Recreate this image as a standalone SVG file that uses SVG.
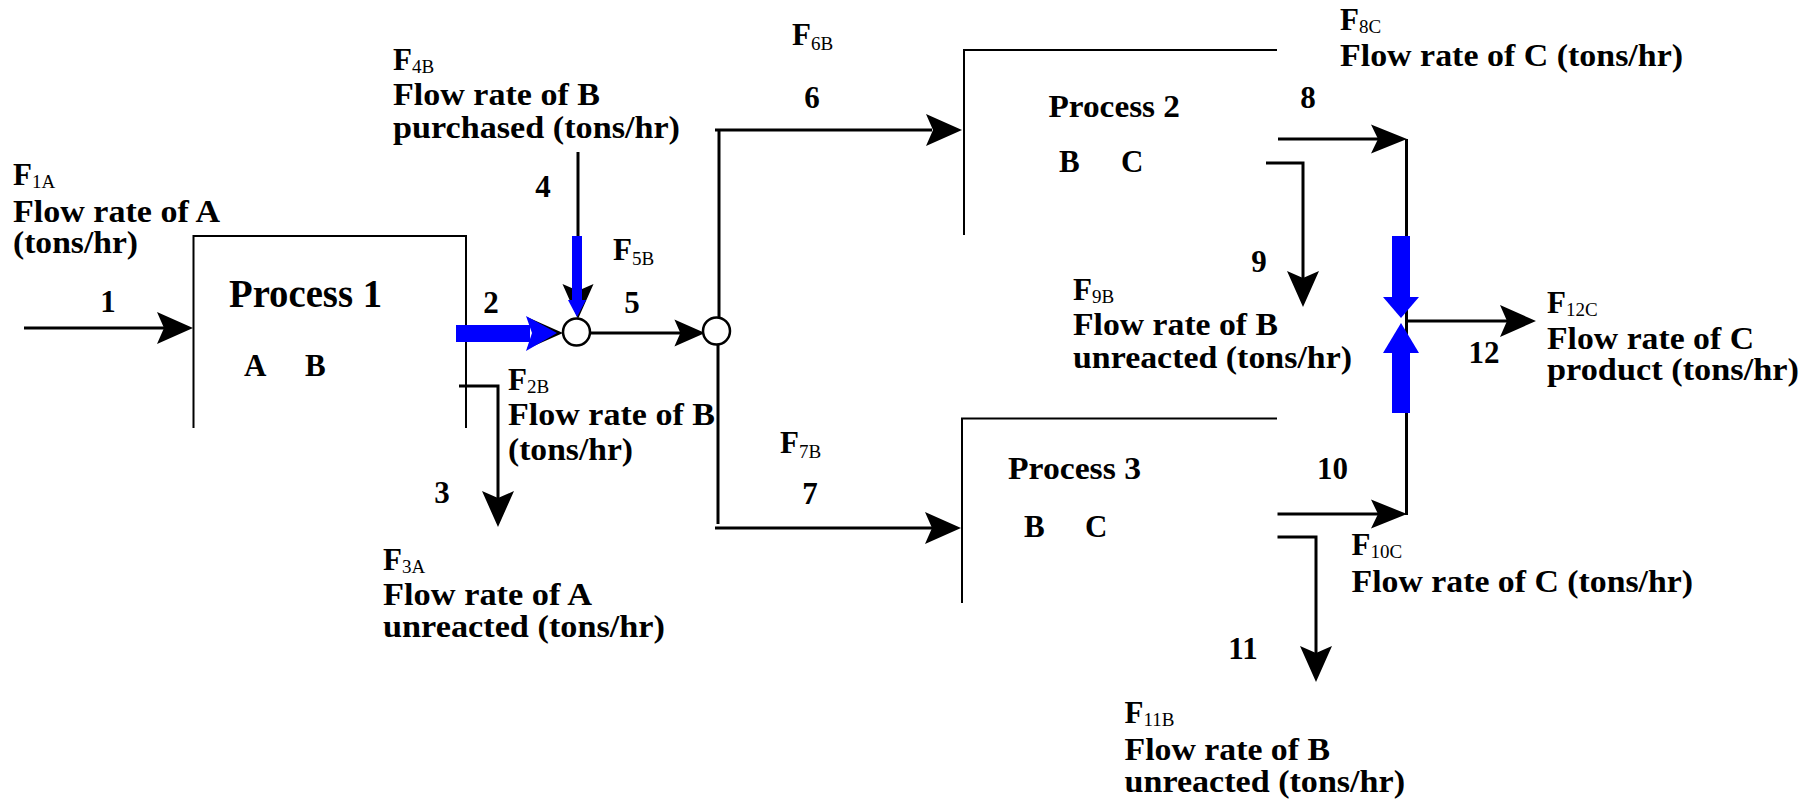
<svg xmlns="http://www.w3.org/2000/svg" xmlns:xlink="http://www.w3.org/1999/xlink" width="1808" height="800" viewBox="0 0 1808 800">
<style>
text{font-family:"Liberation Serif","Times New Roman",serif;font-weight:bold;font-size:31px;fill:#000}
.sub{font-weight:normal;font-size:19px}
.proc{font-size:32px}
.p1{font-size:39px}
.num{text-anchor:middle}
.box{fill:none;stroke:#000;stroke-width:2}
.ln{fill:none;stroke:#000;stroke-width:3}
.blue{fill:#0000ff;stroke:none}
.mix{fill:#fff;stroke:#000;stroke-width:2.5}
</style>
<defs>
<path id="ah" d="M0,0 L-36,-16 L-29,0 L-36,16 Z" fill="#000"/>
</defs>
<rect width="1808" height="800" fill="#fff"/>

<g id="process1">
<path class="box" d="M193.5,428 V236 H466 V428"/>
<text class="p1" x="229" y="307" textLength="153" lengthAdjust="spacingAndGlyphs">Process 1</text>
<text x="244" y="376">A</text>
<text x="305" y="376">B</text>
</g>

<g id="process2">
<path class="box" d="M964,235 V50 H1277"/>
<text class="proc" x="1048.5" y="117" textLength="131.5" lengthAdjust="spacingAndGlyphs">Process 2</text>
<text x="1059" y="172">B</text>
<text x="1121" y="172">C</text>
</g>

<g id="process3">
<path class="box" d="M962,603 V418.5 H1277"/>
<text class="proc" x="1008" y="479" textLength="133" lengthAdjust="spacingAndGlyphs">Process 3</text>
<text x="1024" y="537">B</text>
<text x="1085" y="537">C</text>
</g>

<g id="connectors">
<!-- stream 1 -->
<line class="ln" x1="24" y1="328" x2="165" y2="328"/>
<use xlink:href="#ah" transform="translate(193,328)"/>
<!-- stream 2 (blue) -->
<use xlink:href="#ah" transform="translate(563,333)"/>
<rect class="blue" x="456" y="325" width="74" height="17"/>
<polygon class="blue" points="526,316 557,333 526,351 532,333"/>
<!-- stream 3 -->
<polyline class="ln" points="459,386 498,386 498,500"/>
<use xlink:href="#ah" transform="translate(498,527) rotate(90)"/>
<!-- stream 4 (blue) -->
<line class="ln" x1="578" y1="152" x2="578" y2="240"/>
<use xlink:href="#ah" transform="translate(578,319) scale(0.97) rotate(90)"/>
<rect class="blue" x="572" y="236" width="10" height="66"/>
<polygon class="blue" points="568,300 586,300 577,317"/>
<!-- stream 5 -->
<line class="ln" x1="590" y1="333" x2="685" y2="333"/>
<use xlink:href="#ah" transform="translate(705,333) scale(0.85)"/>
<!-- stream 6 -->
<polyline class="ln" points="719,320 719,130"/>
<line class="ln" x1="715" y1="130" x2="932" y2="130"/>
<use xlink:href="#ah" transform="translate(962,130)"/>
<!-- stream 7 -->
<polyline class="ln" points="718,344 718,524"/>
<line class="ln" x1="715" y1="528" x2="932" y2="528"/>
<use xlink:href="#ah" transform="translate(961,528)"/>
<!-- stream 8 -->
<line class="ln" x1="1278" y1="139" x2="1378" y2="139"/>
<use xlink:href="#ah" transform="translate(1407,139) scale(1,0.9)"/>
<!-- vertical collector -->
<line class="ln" x1="1406.5" y1="139" x2="1406.5" y2="515"/>
<rect class="blue" x="1392" y="236" width="18" height="62"/>
<polygon class="blue" points="1383,297 1419,297 1401,318"/>
<polygon class="blue" points="1401,323 1419,353 1383,353"/>
<rect class="blue" x="1392" y="352" width="18" height="61"/>
<!-- stream 9 -->
<polyline class="ln" points="1266,163 1303,163 1303,280"/>
<use xlink:href="#ah" transform="translate(1303,307) rotate(90)"/>
<!-- stream 10 -->
<line class="ln" x1="1277.5" y1="514" x2="1378" y2="514"/>
<use xlink:href="#ah" transform="translate(1407,514) scale(1,0.9)"/>
<!-- stream 11 -->
<polyline class="ln" points="1277.5,537 1316,537 1316,655"/>
<use xlink:href="#ah" transform="translate(1316,682) rotate(90)"/>
<!-- stream 12 -->
<line class="ln" x1="1406.5" y1="321" x2="1508" y2="321"/>
<use xlink:href="#ah" transform="translate(1536,321)"/>
</g>

<g id="mixer1"><circle class="mix" cx="576.5" cy="332" r="13.5"/></g>
<g id="splitter"><circle class="mix" cx="716.5" cy="331" r="13.5"/></g>

<g id="stream-numbers">
<text class="num" x="108" y="312">1</text>
<text class="num" x="491" y="313">2</text>
<text class="num" x="442" y="503">3</text>
<text class="num" x="543" y="197">4</text>
<text class="num" x="632" y="313">5</text>
<text class="num" x="812" y="108">6</text>
<text class="num" x="810" y="504">7</text>
<text class="num" x="1308" y="108">8</text>
<text class="num" x="1259" y="272">9</text>
<text class="num" x="1332.5" y="479">10</text>
<text class="num" x="1243" y="659">11</text>
<text class="num" x="1484" y="363">12</text>
</g>

<g id="labels">
<g id="label-F1A">
<text x="13" y="185">F<tspan class="sub" dy="3">1A</tspan></text>
<text x="13" y="222" textLength="207" lengthAdjust="spacingAndGlyphs">Flow rate of A</text>
<text x="13" y="253" textLength="125" lengthAdjust="spacingAndGlyphs">(tons/hr)</text>
</g>
<g id="label-F4B">
<text x="393" y="70">F<tspan class="sub" dy="3">4B</tspan></text>
<text x="393" y="105" textLength="207" lengthAdjust="spacingAndGlyphs">Flow rate of B</text>
<text x="393" y="138" textLength="287" lengthAdjust="spacingAndGlyphs">purchased (tons/hr)</text>
</g>
<g id="label-F5B">
<text x="613" y="260">F<tspan class="sub" dy="5">5B</tspan></text>
</g>
<g id="label-F2B">
<text x="508" y="390">F<tspan class="sub" dy="3">2B</tspan></text>
<text x="508" y="425" textLength="207" lengthAdjust="spacingAndGlyphs">Flow rate of B</text>
<text x="508" y="460" textLength="125" lengthAdjust="spacingAndGlyphs">(tons/hr)</text>
</g>
<g id="label-F3A">
<text x="383" y="570">F<tspan class="sub" dy="3">3A</tspan></text>
<text x="383" y="605" textLength="209" lengthAdjust="spacingAndGlyphs">Flow rate of A</text>
<text x="383" y="637" textLength="282" lengthAdjust="spacingAndGlyphs">unreacted (tons/hr)</text>
</g>
<g id="label-F6B">
<text x="792" y="45">F<tspan class="sub" dy="5">6B</tspan></text>
</g>
<g id="label-F7B">
<text x="780" y="453">F<tspan class="sub" dy="5">7B</tspan></text>
</g>
<g id="label-F8C">
<text x="1340" y="30">F<tspan class="sub" dy="3">8C</tspan></text>
<text x="1340" y="66" textLength="343" lengthAdjust="spacingAndGlyphs">Flow rate of C (tons/hr)</text>
</g>
<g id="label-F9B">
<text x="1073" y="300">F<tspan class="sub" dy="3">9B</tspan></text>
<text x="1073" y="335" textLength="205" lengthAdjust="spacingAndGlyphs">Flow rate of B</text>
<text x="1073" y="368" textLength="279" lengthAdjust="spacingAndGlyphs">unreacted (tons/hr)</text>
</g>
<g id="label-F12C">
<text x="1547" y="313">F<tspan class="sub" dy="3">12C</tspan></text>
<text x="1547" y="349" textLength="207" lengthAdjust="spacingAndGlyphs">Flow rate of C</text>
<text x="1547" y="380" textLength="252" lengthAdjust="spacingAndGlyphs">product (tons/hr)</text>
</g>
<g id="label-F10C">
<text x="1351.5" y="555">F<tspan class="sub" dy="3">10C</tspan></text>
<text x="1351.5" y="592" textLength="341.5" lengthAdjust="spacingAndGlyphs">Flow rate of C (tons/hr)</text>
</g>
<g id="label-F11B">
<text x="1124.5" y="723">F<tspan class="sub" dy="3">11B</tspan></text>
<text x="1124.5" y="760" textLength="205.5" lengthAdjust="spacingAndGlyphs">Flow rate of B</text>
<text x="1124.5" y="792" textLength="280.5" lengthAdjust="spacingAndGlyphs">unreacted (tons/hr)</text>
</g>
</g>
</svg>
